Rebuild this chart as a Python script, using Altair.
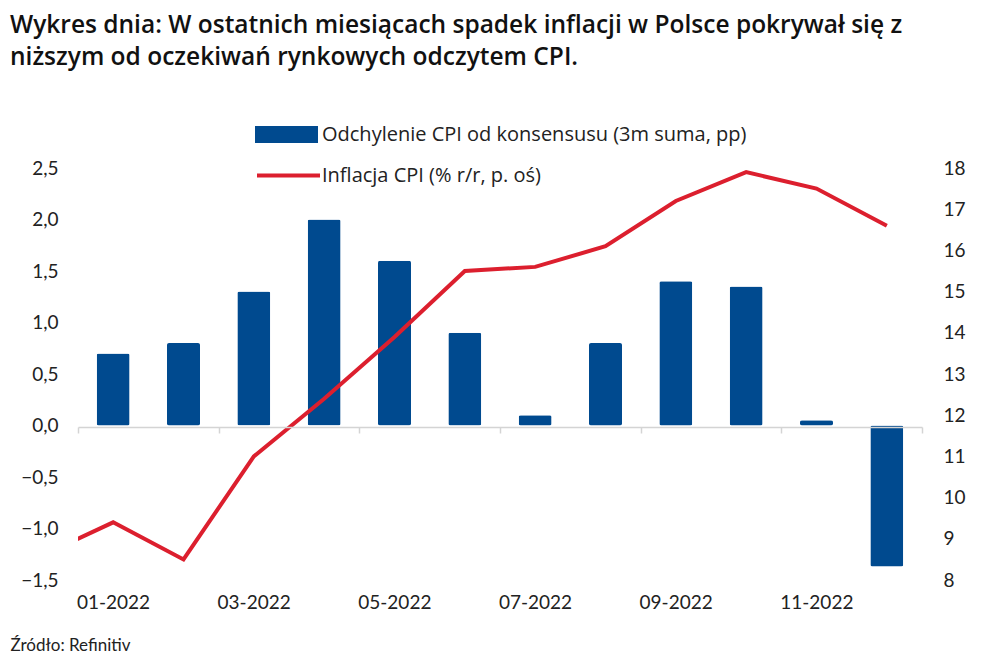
import json
import altair as alt
import pandas as pd

# ---------------- data ----------------
months = ["01-2022", "02-2022", "03-2022", "04-2022", "05-2022", "06-2022",
          "07-2022", "08-2022", "09-2022", "10-2022", "11-2022", "12-2022"]
deviation = [0.7, 0.8, 1.3, 2.0, 1.6, 0.9, 0.1, 0.8, 1.4, 1.35, 0.05, -1.37]
cpi_months = ["12-2021"] + months
cpi = [8.6, 9.4, 8.5, 11.0, 12.4, 13.9, 15.5, 15.6, 16.1, 17.2, 17.9, 17.5, 16.6]
left_ticks = [-1.5, -1.0, -0.5, 0.0, 0.5, 1.0, 1.5, 2.0, 2.5]
right_ticks = [8, 9, 10, 11, 12, 13, 14, 15, 16, 17, 18]

bar_label = "Odchylenie CPI od konsensusu (3m suma, pp)"
line_label = "Inflacja CPI (% r/r, p. oś)"
title_lines = ["Wykres dnia: W ostatnich miesiącach spadek inflacji w Polsce pokrywał się z",
               "niższym od oczekiwań rynkowych odczytem CPI."]
source = "Źródło: Refinitiv"

BLUE = "#004a8f"
RED = "#dc1f2e"
FONT = "Lato"
TFONT = "Open Sans"

bar_df = pd.DataFrame({"idx": list(range(1, 13)), "month": months,
                       "value": deviation, "series": bar_label})
line_df = pd.DataFrame({"idx": list(range(0, 13)), "month": cpi_months,
                        "value": cpi, "series": line_label})

tick_positions = [0.5 + 2 * i for i in range(7)]
label_expr = json.dumps(months) + "[floor(datum.value)] || ''"

x_enc = alt.X(
    "idx:Q",
    scale=alt.Scale(domain=[0.5, 12.5], nice=False, zero=False, padding=0),
    axis=alt.Axis(
        values=tick_positions, labelExpr=label_expr, labelOffset=35,
        labelFlush=False, labelOverlap=False, labelBound=False,
        offset=-153, tickSize=6, tickColor="#d4d4d4", domainColor="#d4d4d4",
        domainWidth=1.5, tickWidth=1.5, zindex=1,
        labelPadding=160, labelFontSize=19, labelFont=FONT, labelColor="#222",
        title=source, titleAnchor="start", titleAlign="left", titleX=-68,
        titleY=223, titleBaseline="alphabetic", titleFont=FONT,
        titleFontSize=17, titleFontWeight="normal", titleColor="#222",
    ),
)

bars = alt.Chart(bar_df).mark_bar(size=33, cornerRadius=2).encode(
    x=x_enc,
    y=alt.Y("value:Q",
            scale=alt.Scale(domain=[-1.5, 2.5], nice=False),
            axis=alt.Axis(values=left_ticks, orient="left", domain=False, ticks=False,
                          labelExpr="replace(format(datum.value, '.1f'), '.', ',')",
                          labelPadding=20, labelFontSize=19, labelFont=FONT,
                          labelColor="#222", title=None, grid=False)),
    color=alt.Color("series:N", scale=alt.Scale(domain=[bar_label], range=[BLUE]),
                    legend=alt.Legend(orient="none", legendX=177, legendY=-65, title=None,
                                      symbolType="M-1,-0.27H1V0.27H-1Z", symbolSize=3969,
                                      symbolStrokeWidth=0, symbolOpacity=1,
                                      labelFont=TFONT, labelFontSize=20, labelColor="#222",
                                      labelOffset=4, labelLimit=0, padding=0)),
)

line = alt.Chart(line_df).mark_line(strokeWidth=4, clip=True).encode(
    x=x_enc,
    y=alt.Y("value:Q",
            scale=alt.Scale(domain=[8, 18], nice=False, zero=False),
            axis=alt.Axis(values=right_ticks, orient="right", domain=False, ticks=False,
                          labelPadding=21, labelFontSize=19, labelFont=FONT,
                          labelColor="#222", title=None, grid=False)),
    stroke=alt.Stroke("series:N", scale=alt.Scale(domain=[line_label], range=[RED]),
                      legend=alt.Legend(orient="none", legendX=177, legendY=-26, title=None,
                                        symbolType="stroke", symbolSize=3969,
                                        symbolStrokeWidth=4, symbolStrokeColor=RED,
                                        labelFont=TFONT, labelFontSize=20, labelColor="#222",
                                        labelOffset=0, labelLimit=0, padding=0)),
)

chart = (
    alt.layer(bars, line)
    .resolve_scale(y="independent", color="independent", stroke="independent")
    .properties(
        width=844, height=412,
        autosize=alt.AutoSizeParams(type="none"),
        padding={"left": 70, "top": 160, "right": 56, "bottom": 78},
        title=alt.TitleParams(text=title_lines, anchor="start", frame="group",
                              dx=-68, font=TFONT, fontSize=24.5, fontWeight=600,
                              color="#111", lineHeight=32, offset=33),
    )
    .configure_view(stroke=None)
    .configure_axis(grid=False)
)

chart.save("out.html", embed_options={"renderer": "svg", "actions": False})
